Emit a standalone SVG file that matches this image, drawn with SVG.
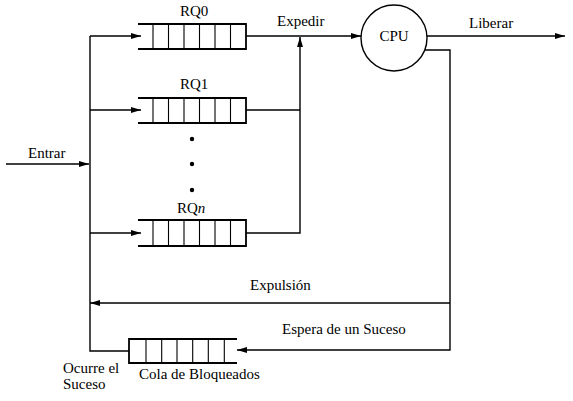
<svg xmlns="http://www.w3.org/2000/svg" width="573" height="401" viewBox="0 0 573 401">
<defs>
<marker id="ah" viewBox="0 0 10 6" refX="10" refY="3" markerWidth="10" markerHeight="6" markerUnits="userSpaceOnUse" orient="auto">
<path d="M0,0 L10,3 L0,6 Z" fill="#000"/>
</marker>
<style>
.ln{fill:none;stroke:#000;stroke-width:1.4}
.qb{fill:none;stroke:#000;stroke-width:1.8}
.qd{fill:none;stroke:#000;stroke-width:1.1}
.t{font-family:'Liberation Serif','DejaVu Serif',serif;font-size:15px;fill:#000}
</style>
</defs>
<rect width="573" height="401" fill="#fff"/>
<g id="connectors">
<polyline class="ln" points="90,36 90,351 129,351"/>
<line class="ln" x1="6" y1="164" x2="89" y2="164" marker-end="url(#ah)"/>
<line class="ln" x1="90" y1="36" x2="141" y2="36" marker-end="url(#ah)"/>
<line class="ln" x1="90" y1="110" x2="141" y2="110" marker-end="url(#ah)"/>
<line class="ln" x1="90" y1="233" x2="141" y2="233" marker-end="url(#ah)"/>
<line class="ln" x1="246" y1="36" x2="361" y2="36" marker-end="url(#ah)"/>
<line class="ln" x1="246" y1="110" x2="300" y2="110"/>
<polyline class="ln" points="246,233 300,233 300,37" marker-end="url(#ah)"/>
<line class="ln" x1="427" y1="36" x2="565" y2="36" marker-end="url(#ah)"/>
<polyline class="ln" points="425,50 450,50 450,350 237,350" marker-end="url(#ah)"/>
<line class="ln" x1="450" y1="303" x2="90" y2="303" marker-end="url(#ah)"/>
</g>
<g id="rq0">
<path class="qb" d="M138,24 H246 V49 H138"/>
<path class="qd" d="M153,24V49M168.5,24V49M184,24V49M199.5,24V49M215,24V49M230.5,24V49"/>
<text class="t" x="180" y="16">RQ0</text>
</g>
<g id="rq1">
<path class="qb" d="M138,98 H246 V123 H138"/>
<path class="qd" d="M153,98V123M168.5,98V123M184,98V123M199.5,98V123M215,98V123M230.5,98V123"/>
<text class="t" x="180" y="89">RQ1</text>
</g>
<g id="dots">
<circle cx="192" cy="139" r="2.2"/>
<circle cx="192" cy="164" r="2.2"/>
<circle cx="192" cy="190" r="2.2"/>
</g>
<g id="rqn">
<path class="qb" d="M138,220 H246 V246 H138"/>
<path class="qd" d="M153,220V246M168.5,220V246M184,220V246M199.5,220V246M215,220V246M230.5,220V246"/>
<text class="t" x="177" y="213">RQ<tspan font-style="italic">n</tspan></text>
</g>
<g id="cpu">
<circle class="ln" cx="394" cy="38" r="33"/>
<text class="t" x="394" y="41" text-anchor="middle">CPU</text>
</g>
<g id="blocked">
<path class="qb" d="M237,339 H129 V363 H237"/>
<path class="qd" d="M146,339V363M161.7,339V363M177,339V363M192.7,339V363M208.3,339V363M224.3,339V363"/>
<text class="t" x="139" y="379">Cola de Bloqueados</text>
</g>
<g id="labels">
<text class="t" x="28" y="158">Entrar</text>
<text class="t" x="277" y="26">Expedir</text>
<text class="t" x="469" y="28">Liberar</text>
<text class="t" x="250" y="290">Expulsión</text>
<text class="t" x="282" y="334">Espera de un Suceso</text>
<text class="t" x="63" y="373">Ocurre el</text>
<text class="t" x="63" y="389">Suceso</text>
</g>
</svg>
